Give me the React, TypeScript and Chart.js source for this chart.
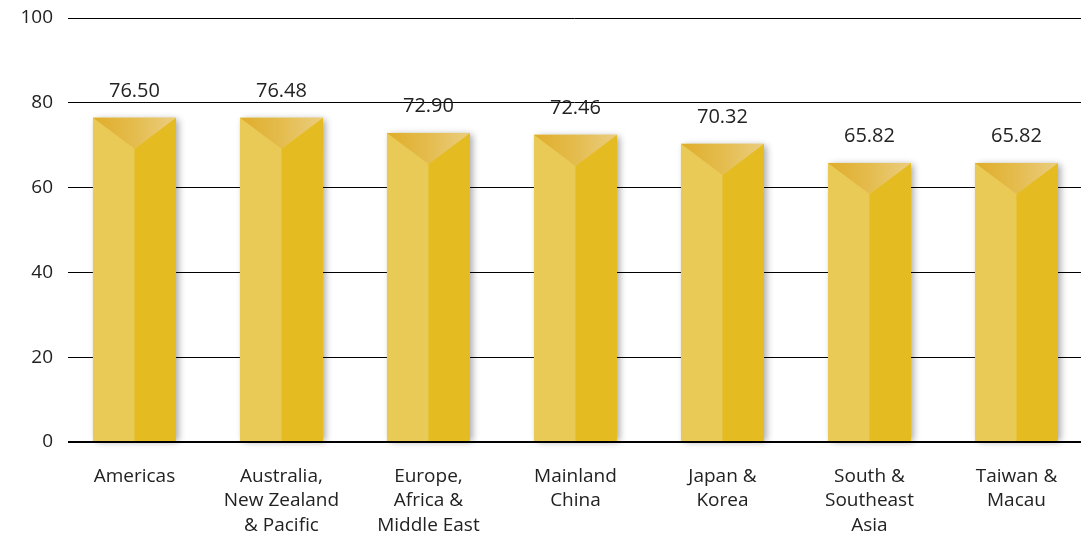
import React, { useEffect, useRef } from "react";
import { Chart, registerables } from "chart.js";

Chart.register(...registerables);

const categories: string[][] = [
  ["Americas"],
  ["Australia,", "New Zealand", "& Pacific"],
  ["Europe,", "Africa &", "Middle East"],
  ["Mainland", "China"],
  ["Japan &", "Korea"],
  ["South &", "Southeast", "Asia"],
  ["Taiwan &", "Macau"],
];
const values: number[] = [76.5, 76.48, 72.9, 72.46, 70.32, 65.82, 65.82];
const valueLabels: string[] = ["76.50", "76.48", "72.90", "72.46", "70.32", "65.82", "65.82"];
const yMin = 0;
const yMax = 100;
const yStep = 20;

const FONT = '"Open Sans", "Noto Sans", sans-serif';
const LEFT_COLOR = "#E9CA57";
const RIGHT_COLOR = "#E4BC22";

const prismPlugin = {
  id: "prism",
  afterDatasetsDraw(chart: any) {
    const ctx = chart.ctx as CanvasRenderingContext2D;
    const meta = chart.getDatasetMeta(0);
    meta.data.forEach((bar: any, i: number) => {
      const { x, y, base, width } = bar.getProps(["x", "y", "base", "width"], true);
      const l = x - width / 2;
      const r = x + width / 2;
      const apex = y + width * 0.375;
      ctx.save();
      ctx.shadowColor = "rgba(0,0,0,0.35)";
      ctx.shadowBlur = 7;
      ctx.shadowOffsetX = 3;
      ctx.shadowOffsetY = 1;
      ctx.fillStyle = LEFT_COLOR;
      ctx.fillRect(l, y, width, base - y);
      ctx.restore();

      ctx.save();
      // left face
      ctx.fillStyle = LEFT_COLOR;
      ctx.beginPath();
      ctx.moveTo(l, y);
      ctx.lineTo(x, apex);
      ctx.lineTo(x, base);
      ctx.lineTo(l, base);
      ctx.closePath();
      ctx.fill();
      // right face
      ctx.fillStyle = RIGHT_COLOR;
      ctx.beginPath();
      ctx.moveTo(x, apex);
      ctx.lineTo(r, y);
      ctx.lineTo(r, base);
      ctx.lineTo(x, base);
      ctx.closePath();
      ctx.fill();
      // top triangle
      const g = ctx.createLinearGradient(l, 0, r, 0);
      g.addColorStop(0, "#E0AD2A");
      g.addColorStop(0.5, "#E4BC4E");
      g.addColorStop(1, "#EBCD80");
      ctx.fillStyle = g;
      ctx.beginPath();
      ctx.moveTo(l, y);
      ctx.lineTo(r, y);
      ctx.lineTo(x, apex);
      ctx.closePath();
      ctx.fill();

      // value label
      ctx.fillStyle = "#222222";
      ctx.font = `20px ${FONT}`;
      ctx.textAlign = "center";
      ctx.textBaseline = "alphabetic";
      ctx.fillText(valueLabels[i], x, y - 21);
      ctx.restore();
    });
  },
};

export default function App() {
  const canvasRef = useRef<HTMLCanvasElement | null>(null);

  useEffect(() => {
    if (!canvasRef.current) return;
    const chart = new Chart(canvasRef.current, {
      type: "bar",
      data: {
        datasets: [
          {
            data: values.map((v, i) => ({ x: i, y: v })),
            backgroundColor: "rgba(0,0,0,0)",
            borderWidth: 0,
            barThickness: 83,
          },
        ],
      },
      options: {
        responsive: false,
        animation: false,
        maintainAspectRatio: false,
        layout: { padding: { top: 18, right: 0, bottom: 0, left: 0 } },
        plugins: {
          legend: { display: false },
          tooltip: { enabled: false },
        },
        scales: {
          x: {
            type: "linear",
            offset: false,
            min: -0.452,
            max: 6.439,
            grid: { display: false },
            border: { display: false },
            ticks: {
              stepSize: 1,
              includeBounds: false,
              autoSkip: false,
              maxRotation: 0,
              minRotation: 0,
              padding: 14,
              color: "#222222",
              font: { family: FONT, size: 19, lineHeight: 1.3 },
              callback: (v: any) => {
                const n = Number(v);
                return Number.isInteger(n) && categories[n] ? categories[n] : "";
              },
            },
            afterFit: (scale: any) => {
              scale.height = 98;
              scale.paddingLeft = 0;
              scale.paddingRight = 0;
            },
          },
          y: {
            min: yMin,
            max: yMax,
            grid: {
              color: "#000000",
              lineWidth: (c: any) => (c.tick && c.tick.value === 0 ? 2 : 1),
              drawTicks: false,
            },
            border: { display: false },
            ticks: {
              stepSize: yStep,
              padding: 15,
              color: "#222222",
              font: { family: FONT, size: 19 },
            },
            afterFit: (scale: any) => {
              scale.width = 68;
              scale.paddingTop = 0;
              scale.paddingBottom = 0;
            },
          },
        },
      },
      plugins: [prismPlugin],
    });
    return () => chart.destroy();
  }, []);

  return (
    <div style={{ position: "absolute", left: 0, top: 0, width: 1081, height: 540, background: "#fff" }}>
      <canvas ref={canvasRef} width={1081} height={540} style={{ display: "block" }} />
    </div>
  );
}
